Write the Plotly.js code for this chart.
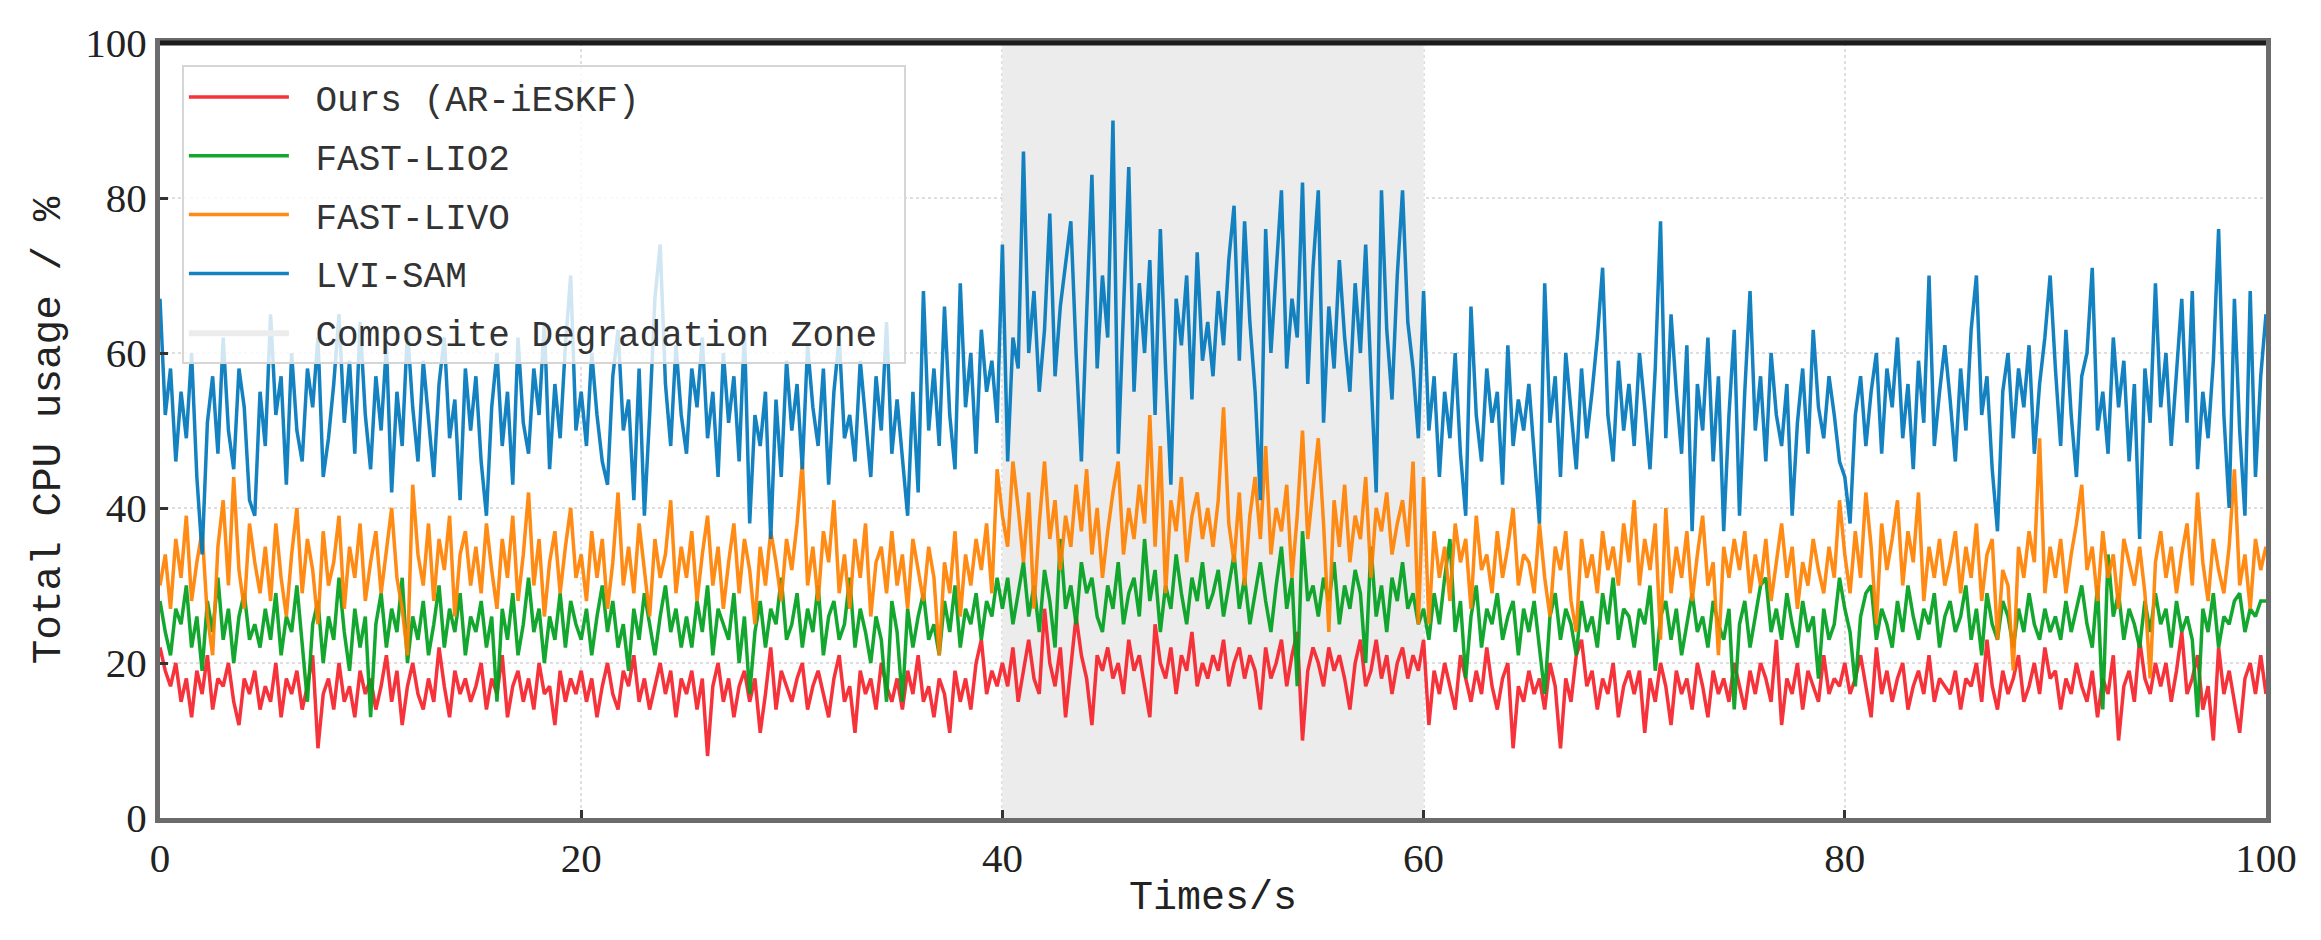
<!DOCTYPE html>
<html>
<head>
<meta charset="utf-8">
<script src="https://cdn.plot.ly/plotly-3.0.1.min.js"></script>
<style>
  html, body { margin: 0; padding: 0; background: #fff; }
  #chart { width: 2321px; height: 940px; }
</style>
</head>
<body>
<div id="chart"></div>
<script>
// CPU usage samples, one every 0.25 s from t = 0 to t = 100 s
const sampleStart = 0;
const sampleStep = 0.25;

const seriesNames = ["Ours (AR-iESKF)", "FAST-LIO2", "FAST-LIVO", "LVI-SAM"];
const zoneName = "Composite Degradation Zone";
const zoneStart = 40;
const zoneEnd = 60;

const oursCpu = [
    22,19,17,20,15,18,13,19,16,21,14,18,17,20,15,12,18,16,19,14,
    17,15,20,13,18,16,19,14,17,21,9,16,18,14,20,15,17,13,19,16,
    18,14,17,21,15,19,12,17,20,16,14,18,15,22,17,13,19,16,18,15,
    17,20,14,18,16,21,13,17,19,15,18,14,20,16,17,12,19,15,18,16,
    19,15,18,13,17,20,16,14,19,17,21,15,18,14,17,20,16,19,13,18,
    16,19,14,18,8,17,20,15,18,13,17,19,15,18,11,16,22,14,19,17,
    15,18,20,14,17,19,16,13,18,21,15,17,11,19,16,18,14,20,17,15,
    18,14,19,16,21,15,17,13,18,16,11,19,15,18,14,20,23,16,19,17,
    20,17,22,15,19,23,18,16,27,20,17,22,13,19,26,21,18,12,21,19,
    22,18,20,16,23,19,21,17,13,25,20,18,22,16,21,19,24,17,20,18,
    21,19,23,17,20,22,18,21,19,14,22,18,20,23,17,21,24,10,19,22,
    20,17,22,19,21,18,14,20,23,17,19,23,18,21,16,20,22,18,21,19,
    23,12,19,16,20,17,14,21,18,15,19,16,22,17,14,18,20,9,17,15,
    19,16,18,14,20,17,9,18,15,21,23,17,19,14,18,16,20,13,17,19,
    16,19,11,18,15,20,17,12,19,16,18,14,20,17,13,19,16,18,15,20,
    17,14,19,16,20,18,15,23,12,18,16,20,14,19,17,15,21,16,18,17,
    20,16,18,21,17,13,22,16,19,15,18,20,14,17,19,16,21,15,18,17,
    16,19,14,18,17,20,15,23,17,14,19,16,18,21,15,17,20,16,22,18,
    19,14,18,16,20,17,15,19,13,18,16,21,10,17,19,15,23,18,16,20,
    17,20,15,19,24,16,18,21,14,17,10,22,16,19,15,11,18,20,16,21,
    16
];

const fastLio2Cpu = [
    28,24,21,27,25,30,22,26,19,28,24,31,23,27,20,26,29,23,25,22,
    27,23,29,21,26,24,30,22,15,25,28,20,26,23,31,24,19,27,22,26,
    13,25,29,22,27,24,31,20,26,23,28,21,25,30,22,27,24,29,21,26,
    24,28,22,26,15,27,23,29,21,25,31,24,27,20,26,23,29,22,28,25,
    23,27,21,26,30,24,28,22,25,19,27,23,29,25,21,26,30,24,27,22,
    26,22,28,24,30,21,27,25,23,29,20,26,16,24,28,22,27,25,31,23,
    25,29,22,27,24,30,21,26,28,23,25,31,22,27,24,20,26,23,15,28,
    24,15,27,22,26,29,23,25,21,28,24,30,22,27,25,29,23,28,26,31,
    27,31,25,29,33,26,30,24,32,28,22,36,27,30,25,33,29,31,26,24,
    30,27,33,25,29,31,26,36,28,32,24,30,27,34,29,25,31,28,33,27,
    29,32,26,30,34,27,31,25,29,33,28,24,30,35,27,31,17,37,28,30,
    26,31,28,33,25,30,27,32,29,20,35,26,30,24,31,28,33,27,29,25,
    27,23,29,25,31,36,24,28,18,26,30,22,27,25,29,23,26,28,21,27,
    24,28,22,16,26,29,23,27,25,21,28,24,26,22,29,25,31,23,27,26,
    22,27,25,30,19,26,28,23,27,21,25,29,24,26,22,28,25,23,27,14,
    25,28,22,26,30,31,24,27,23,29,25,22,28,24,26,18,27,23,25,31,
    27,24,17,26,29,30,23,27,25,22,28,24,30,26,23,27,25,29,22,26,
    28,24,26,30,23,27,21,29,25,23,28,26,22,27,24,29,25,23,27,24,
    26,23,28,24,27,30,25,22,30,14,34,26,29,23,27,25,22,28,24,29,
    25,27,22,28,24,26,23,13,27,24,29,22,26,25,28,29,24,27,26,28,
    28
];

const fastLivoCpu = [
    30,34,27,36,31,39,28,33,37,26,21,35,41,30,44,32,27,38,33,29,
    35,28,38,31,26,34,40,29,36,32,25,37,30,33,39,27,35,31,38,28,
    33,37,29,35,40,31,27,21,43,34,30,38,28,36,32,39,26,34,37,30,
    35,29,38,32,27,36,31,39,28,34,42,30,36,26,33,37,29,35,40,31,
    34,28,37,31,36,27,33,42,30,35,29,38,32,26,36,31,34,41,29,35,
    31,37,28,34,39,30,35,27,33,38,29,36,32,25,35,30,37,33,28,36,
    32,38,46,30,35,28,37,33,41,29,34,27,36,31,38,26,33,35,29,37,
    30,34,27,36,32,28,35,31,21,33,29,37,26,34,30,36,32,38,29,45,
    39,35,46,40,33,42,27,38,46,36,41,32,39,35,43,37,45,34,40,31,
    37,42,46,34,40,36,43,38,52,35,48,29,41,37,44,33,39,42,36,40,
    35,41,53,38,33,42,30,39,44,36,48,34,40,37,43,31,39,50,36,42,
    49,38,24,41,35,43,33,39,36,44,31,40,37,42,34,38,41,35,46,25,
    44,25,37,31,35,28,38,33,36,27,39,32,34,29,37,31,35,40,30,34,
    33,29,38,31,26,35,32,37,28,24,36,31,34,29,37,32,35,30,38,33,
    41,30,36,32,38,23,40,29,35,31,37,28,34,39,30,33,21,35,31,36,
    32,37,29,34,30,36,28,33,38,31,35,27,33,30,36,32,29,35,31,41,
    34,29,37,31,42,35,25,38,32,36,41,30,37,33,42,28,35,31,36,30,
    33,37,29,35,31,38,28,34,36,23,32,30,19,35,31,37,33,49,29,35,
    31,36,29,34,38,43,32,35,28,37,31,34,27,36,33,30,35,29,18,33,
    37,31,35,29,34,38,30,42,33,28,36,32,29,35,45,30,34,27,36,32,
    35
];

const lviSamCpu = [
    67,52,58,46,55,49,60,44,34,51,57,47,62,50,45,58,53,41,39,55,
    48,65,52,57,43,60,50,46,58,53,62,44,49,56,65,51,59,47,64,52,
    45,57,50,61,42,55,48,63,53,46,59,51,44,56,62,49,54,41,58,50,
    57,46,39,53,60,48,55,43,62,51,47,58,52,64,45,56,49,61,70,50,
    55,48,60,52,46,43,57,63,50,54,41,58,39,52,67,74,56,48,61,52,
    47,58,53,62,49,55,44,60,51,57,46,63,38,52,48,55,36,54,44,59,
    50,56,45,61,53,48,58,43,55,62,49,52,46,59,51,44,57,50,64,47,
    54,46,39,55,42,68,50,58,48,66,52,45,69,53,60,47,63,55,59,51,
    74,46,62,58,86,60,68,55,63,78,57,66,72,77,60,46,65,83,58,70,
    62,90,47,66,84,55,69,60,72,52,76,58,43,67,61,70,54,73,59,64,
    57,68,61,72,79,59,77,64,55,41,76,60,70,81,58,67,62,82,56,71,
    81,51,66,58,72,62,55,69,60,74,57,42,81,63,54,70,81,64,58,49,
    68,50,57,44,55,49,60,47,39,66,52,46,58,51,55,43,61,48,54,50,
    56,47,38,69,51,57,44,60,53,45,58,49,55,62,71,52,46,59,50,56,
    48,60,53,45,58,77,49,65,55,47,61,37,56,50,62,46,57,37,52,63,
    39,55,68,50,57,46,60,52,48,56,39,51,58,47,63,53,49,57,52,46,
    44,38,52,57,48,55,60,47,58,53,62,49,56,45,59,51,70,48,55,61,
    54,46,58,50,63,70,52,57,45,37,55,60,49,58,53,61,47,56,62,70,
    58,48,63,52,44,57,60,71,50,55,47,62,53,59,46,56,36,58,51,69,
    53,60,48,57,67,51,68,45,55,49,59,76,52,40,67,50,39,68,44,57,
    65
];

const xTicks = [0, 20, 40, 60, 80, 100];
const yTicks = [0, 20, 40, 60, 80, 100];

const seriesValues = [oursCpu, fastLio2Cpu, fastLivoCpu, lviSamCpu];
const seriesColors = ["#f5222a", "#00a01e", "#ff8000", "#0077bb"];

const monoFont = "Liberation Mono, DejaVu Sans Mono, monospace";
const serifFont = "Liberation Serif, DejaVu Serif, serif";

// non-breaking spaces push the legend labels away from the sample lines
const pad = label => "\u00a0" + label + "\u00a0";

const zoneTrace = {
    x: [zoneStart, zoneEnd, zoneEnd, zoneStart, zoneStart],
    y: [0, 0, 100, 100, 0],
    name: pad(zoneName),
    type: "scatter",
    mode: "lines",
    fill: "toself",
    fillcolor: "#ececec",
    line: { width: 0, color: "#ececec" },
    legendgroup: "zone",
    legendrank: 5,
    hoverinfo: "skip"
};

const lineTraces = seriesNames.map((name, i) => ({
    y: seriesValues[i],
    x0: sampleStart,
    dx: sampleStep,
    name: pad(name),
    type: "scatter",
    mode: "lines",
    opacity: 0.92,
    line: { color: seriesColors[i], width: 3.5 },
    legendgroup: "s" + i,
    legendrank: i + 1
}));

const axisStyle = {
    range: [0, 100],
    ticks: "inside",
    ticklen: 8,
    tickwidth: 3,
    tickcolor: "#333",
    showline: true,
    linecolor: "#6b6b6b",
    linewidth: 5,
    mirror: true,
    showgrid: true,
    gridcolor: "#dedede",
    gridwidth: 2,
    griddash: "dot",
    zeroline: false,
    tickfont: { family: serifFont, size: 41, color: "#222" }
};

const layout = {
    width: 2321,
    height: 940,
    paper_bgcolor: "#ffffff",
    plot_bgcolor: "#ffffff",
    margin: { l: 160, r: 55, t: 43, b: 122 },
    font: { family: serifFont, size: 41, color: "#222" },
    showlegend: true,
    legend: {
        x: 0.0104,
        y: 0.9715,
        xanchor: "left",
        yanchor: "top",
        bgcolor: "rgba(255,255,255,0.8)",
        bordercolor: "#d6d6d6",
        borderwidth: 2,
        font: { family: monoFont, size: 36, color: "#333" },
        itemwidth: 100,
        traceorder: "grouped",
        tracegroupgap: 9
    },
    xaxis: Object.assign({}, axisStyle, {
        tickvals: xTicks,
        title: { text: "Times/s", font: { family: monoFont, size: 40, color: "#222" }, standoff: 2 }
    }),
    yaxis: Object.assign({}, axisStyle, {
        tickvals: yTicks,
        title: { text: "Total CPU usage / %", font: { family: monoFont, size: 41, color: "#222" }, standoff: 13 }
    }),
    shapes: [
        {
            type: "line", xref: "paper", yref: "paper",
            x0: 0, x1: 1, y0: 1, y1: 1,
            line: { color: "#1c1c1c", width: 5 }
        }
    ]
};

Plotly.newPlot("chart", [zoneTrace, ...lineTraces], layout, { displayModeBar: false, staticPlot: true });
</script>
</body>
</html>
